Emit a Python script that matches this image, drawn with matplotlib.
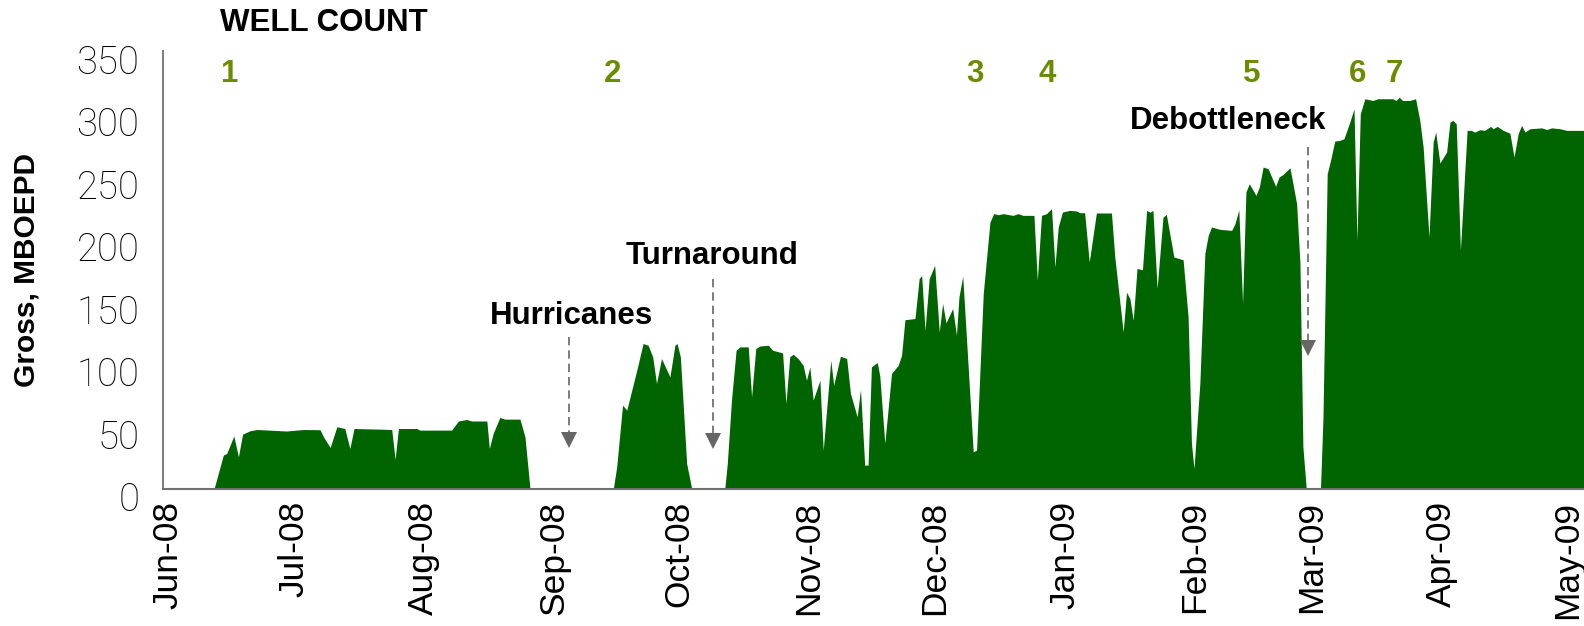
import datetime as dt

import matplotlib

matplotlib.use("Agg")
import matplotlib.dates as mdates
import matplotlib.pyplot as plt
import matplotlib.transforms as mtransforms

# gross production, days since 1 Jun 2008 -> MBOEPD
days = [
    0.0, 12.2, 14.4, 15.2, 16.9, 18.0, 19.0, 20.8, 22.4, 29.5, 33.5, 37.5, 38.3, 39.9,
    41.5, 43.4, 44.6, 45.6, 51.8, 54.6, 55.4, 56.2, 60.6, 61.3, 68.9, 70.5, 72.5, 73.7,
    77.3, 77.9, 78.8, 80.4, 81.6, 85.2, 86.4, 87.6, 107.5, 108.3, 109.7, 110.7, 113.1,
    114.6, 115.8, 116.9, 117.8, 119.0, 121.0, 122.2, 122.7, 123.5, 125.0, 126.2, 134.1,
    134.7, 135.7, 136.8, 137.7, 139.7, 140.5, 141.5, 142.5, 144.5, 145.5, 147.9, 148.7,
    149.6, 150.4, 151.6, 152.8, 153.6, 154.4, 155.2, 156.8, 157.6, 159.4, 160.1, 161.7,
    163.2, 164.1, 165.7, 166.5, 167.5, 168.3, 169.1, 170.5, 171.1, 172.3, 173.9, 175.5,
    176.3, 177.1, 179.5, 180.5, 181.1, 181.9, 182.9, 184.2, 185.3, 186.1, 186.9, 188.5,
    189.4, 190.0, 190.9, 192.2, 193.4, 194.2, 195.8, 197.4, 198.3, 199.4, 200.5, 202.9,
    204.1, 205.3, 207.9, 208.7, 209.7, 210.9, 212.1, 212.9, 213.7, 214.7, 216.5, 218.1,
    218.9, 220.0, 221.1, 222.8, 226.4, 227.2, 229.2, 230.0, 230.8, 231.6, 232.5, 233.8,
    234.8, 235.6, 236.3, 237.3, 238.7, 239.5, 241.3, 243.5, 244.7, 245.5, 246.1, 247.5,
    248.7, 249.5, 250.3, 252.3, 255.1, 255.9, 256.8, 257.7, 258.5, 259.3, 260.9, 261.7,
    262.6, 263.8, 265.6, 266.4, 267.4, 269.0, 269.8, 270.6, 271.4, 272.1, 272.9, 276.3,
    276.9, 277.9, 278.7, 279.7, 280.9, 281.9, 283.3, 284.3, 285.0, 285.8, 286.9, 288.8,
    290.0, 293.6, 294.3, 295.1, 295.9, 297.6, 299.0, 300.0, 300.8, 302.2, 303.2, 303.8,
    304.8, 306.4, 307.2, 307.9, 308.7, 309.7, 311.3, 312.3, 313.1, 314.3, 315.5, 316.9,
    317.5, 318.5, 319.9, 321.5, 322.5, 323.5, 324.3, 325.1, 326.3, 329.1, 330.3, 331.5,
    333.5, 335.1, 339.2,
]
mboepd = [
    0, 0, 26.7, 28, 42, 25.4, 43.5, 46.2, 47.2, 46.0, 47.2, 47, 41.4, 32.8,
    49.4, 48, 32, 48, 47.5, 47.2, 23.3, 48, 48, 46.7, 46.7, 54, 55.2, 54,
    54, 32, 44, 56.8, 55.5, 55.5, 41.4, 0, 0, 17.4, 66.7, 62.7, 94.7,
    116, 114.6, 105.3, 84, 104, 89.3, 114.6, 116, 105.3, 20, 0, 0,
    20, 70.7, 110.6, 113.3, 113.3, 73.3, 112, 114, 114.6, 110.6, 108.5, 68,
    105.3, 107.4, 104, 98.6, 86.6, 97.3, 70.7, 86.6, 30.7, 102.6, 82.7, 105.8,
    104, 76, 57.4, 79.2, 18.7, 18.7, 97.3, 100.8, 90, 36, 92, 98.6,
    106.6, 135, 136, 168, 170.3, 126.6, 168, 178.6, 125.3, 148, 132.5, 144,
    122.6, 153.3, 169.8, 97.3, 29.4, 30.7, 156, 213.2, 219.9, 219, 219.9, 218.5,
    219.9, 218.5, 218.5, 166.6, 218.5, 219.9, 223.9, 177.2, 209.2, 221.2, 222.5, 222,
    220.6, 220.6, 181.2, 220.4, 220.4, 185.2, 125.3, 157, 152, 134.6, 176, 175,
    222.5, 221, 222.5, 160, 217, 219.3, 185.2, 183, 137.3, 36, 16, 84,
    188, 202.5, 209.2, 207.3, 206.5, 212, 223, 148, 237.2, 243.8, 234.5, 241.2,
    257.2, 255.8, 241.7, 249.2, 251.3, 256.6, 242.5, 227.9, 180, 33.4, 0, 0,
    57.4, 251.8, 262.5, 277.9, 278.5, 279.8, 293.1, 303.8, 198.6, 299.8, 311.8, 310.4,
    311.8, 311.8, 310.4, 313, 310.4, 310.4, 311.8, 294.5, 273.2, 201.2, 277.2, 285.1,
    260.4, 269.1, 293.1, 294.5, 291.8, 190.6, 286.5, 286.5, 285.1, 287, 286.5, 289.7,
    287.8, 289.7, 286.5, 284.3, 265.2, 284, 290.5, 285.1, 287.8, 288.5, 287.2, 288.5,
    287.8, 286.5, 286.5,
]

# well count markers: day the well came on, label
well_days = [15.8, 107.2, 193.9, 211.0, 259.8, 285.2, 294.0]
well_labels = ["1", "2", "3", "4", "5", "6", "7"]

# events: label, arrow day, arrow top, arrow tip
event_labels = ["Hurricanes", "Turnaround", "Debottleneck"]
event_days = [97.0, 131.3, 273.4]
event_tops = [121, 168, 273]
event_tips = [32.5, 32.1, 106.6]
# text centres (day, value)
event_text_pos = [(97.4, 138), (131.0, 186), (254.2, 294)]

start = mdates.date2num(dt.datetime(2008, 6, 1))
x = [start + d for d in days]

GREEN = "#006400"
OLIVE = "#6a8c00"
GREY = "#666666"

fig = plt.figure(figsize=(15.84, 6.26), dpi=100)
ax = fig.add_axes([163 / 1584, 1 - 488.5 / 626, 1 - 163 / 1584, 437.5 / 626])

ax.fill_between(x, 0, mboepd, color=GREEN, linewidth=0)

ax.set_xlim(start, start + 339.2)
ax.set_ylim(0, 350)
ax.set_yticks(range(0, 351, 50))
ax.xaxis.set_major_locator(mdates.MonthLocator())
ax.xaxis.set_major_formatter(mdates.DateFormatter("%b-%y"))

for side in ("top", "right"):
    ax.spines[side].set_visible(False)
ax.spines["left"].set_color("#808080")
ax.spines["left"].set_linewidth(1.5)
ax.spines["bottom"].set_color("#707070")
ax.spines["bottom"].set_linewidth(1.5)

ax.tick_params(axis="x", length=0, pad=9, labelsize=25.5, labelrotation=90)
ax.tick_params(axis="y", length=0, pad=17, labelsize=27.5)
xoff = mtransforms.ScaledTranslation(0.05, 0, fig.dpi_scale_trans)
for lab in ax.get_xticklabels():
    lab.set_family(["Liberation Sans", "DejaVu Sans"])
    lab.set_transform(lab.get_transform() + xoff)
yoff = mtransforms.ScaledTranslation(0, -0.08, fig.dpi_scale_trans)
for lab in ax.get_yticklabels():
    lab.set_family(["Roboto", "DejaVu Sans"])
    lab.set_fontweight("light")
    lab.set_transform(lab.get_transform() + yoff)

ax.set_ylabel("Gross, MBOEPD", fontsize=21.5, fontweight="bold",
              family=["Liberation Sans", "DejaVu Sans"])
ax.yaxis.set_label_coords(-0.086, 0.5)

bold = dict(fontsize=22.5, fontweight="bold", family=["Liberation Sans", "DejaVu Sans"])

ax.text(start + 13.6, 372.7, "WELL COUNT", ha="left", va="center", clip_on=False, **bold)
for d, lab in zip(well_days, well_labels):
    ax.text(start + d, 332, lab, ha="center", va="center", color=OLIVE, **bold)

for lab, d, top, tip, (tx, ty) in zip(event_labels, event_days, event_tops,
                                       event_tips, event_text_pos):
    ax.text(start + tx, ty, lab, ha="center", va="center", **bold)
    ax.plot([start + d, start + d], [top, tip + 12], color=GREY, lw=1.2,
            linestyle=(0, (5, 3)))
    ax.plot([start + d], [tip + 6], marker="v", markersize=11, color=GREY,
            markeredgewidth=0)

fig.savefig("out.png", dpi=100)
